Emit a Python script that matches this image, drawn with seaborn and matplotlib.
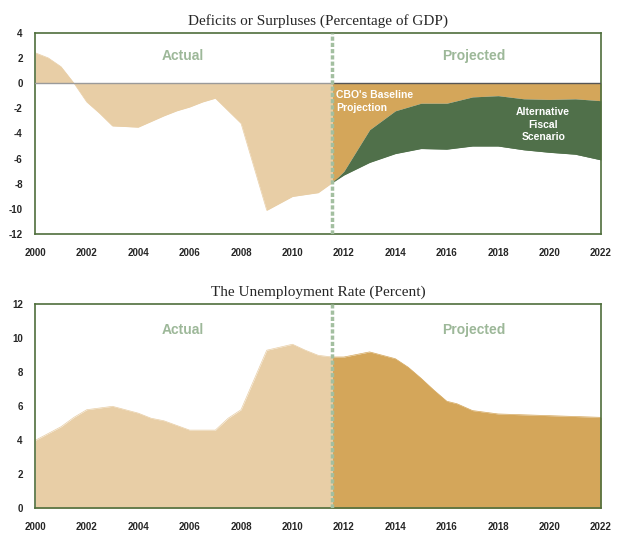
import numpy as np
import pandas as pd
import matplotlib
matplotlib.use('Agg')
import matplotlib.pyplot as plt
import seaborn as sns

# deficits (percentage of GDP)
def_actual_years = [2000, 2000.5, 2001, 2001.5, 2002, 2002.5, 2003, 2004, 2005, 2005.5,
                    2006, 2006.5, 2007, 2008, 2009, 2010, 2011, 2011.55]
def_actual = [2.4, 2.0, 1.3, 0.0, -1.5, -2.4, -3.4, -3.5, -2.6, -2.2,
              -1.9, -1.5, -1.2, -3.2, -10.1, -9.0, -8.7, -7.9]

proj_years = [2011.55, 2012, 2013, 2014, 2015, 2016, 2017, 2018, 2019, 2020, 2021, 2022]
baseline = [-7.9, -7.0, -3.7, -2.2, -1.6, -1.6, -1.1, -1.0, -1.25, -1.3, -1.25, -1.4]
alternative = [-7.9, -7.3, -6.3, -5.6, -5.2, -5.25, -5.0, -5.0, -5.3, -5.5, -5.65, -6.1]

# unemployment rate (percent)
un_actual_years = [2000, 2001, 2001.5, 2002, 2003, 2004, 2004.5, 2005, 2006, 2007,
                   2007.5, 2008, 2009, 2010, 2010.5, 2011, 2011.55]
un_actual = [4.0, 4.8, 5.35, 5.8, 6.0, 5.6, 5.3, 5.15, 4.6, 4.6,
             5.3, 5.8, 9.3, 9.65, 9.3, 9.0, 8.9]

un_proj_years = [2011.55, 2012, 2013, 2014, 2014.5, 2015, 2015.5, 2016, 2016.4, 2017,
                 2018, 2019, 2020, 2021, 2022]
un_proj = [8.9, 8.9, 9.2, 8.8, 8.3, 7.65, 6.95, 6.3, 6.15, 5.75,
           5.55, 5.5, 5.45, 5.4, 5.35]

split_year = 2011.55
xticks = list(range(2000, 2023, 2))

TAN = '#E8CEA6'
ORANGE = '#D4A65A'
GREEN = '#50704A'
SPINE = '#4F6E3C'
LABEL = '#9DB899'

sns.set_style('white')
plt.rcParams['font.family'] = ['Liberation Sans', 'DejaVu Sans']

fig = plt.figure(figsize=(6.24, 5.41), dpi=100)
ax1 = fig.add_axes([0.0566, 0.567, 0.9066, 0.3726])
ax2 = fig.add_axes([0.0566, 0.0604, 0.9066, 0.3771])


def style_axes(ax, ylim, yticks, title):
    ax.set_xlim(2000, 2022)
    ax.set_ylim(*ylim)
    ax.set_xticks(xticks)
    ax.set_xticklabels([str(t) for t in xticks], fontsize=7, fontweight='bold')
    ax.set_yticks(yticks)
    ax.set_yticklabels([str(t) for t in yticks], fontsize=7, fontweight='bold')
    ax.tick_params(axis='x', direction='in', length=3, color='#cccccc', pad=10)
    ax.tick_params(axis='y', length=0, pad=9)
    for s in ax.spines.values():
        s.set_color(SPINE)
        s.set_linewidth(1.2)
        s.set_visible(True)
    ax.set_xlabel('')
    ax.set_ylabel('')
    ax.set_title(title, family=['Liberation Serif', 'DejaVu Serif'], fontsize=11, pad=6)
    ax.axvline(split_year, color='#A3BFA0', lw=2.5, ls=(0, (1.2, 0.6)), zorder=5)


# top panel
d_act = pd.DataFrame({'year': def_actual_years, 'value': def_actual})
d_proj = pd.DataFrame({'year': proj_years, 'base': baseline, 'alt': alternative})

ax1.fill_between(d_act['year'], 0, d_act['value'], color=TAN, lw=0)
ax1.fill_between(d_proj['year'], 0, d_proj['base'], color=ORANGE, lw=0)
ax1.fill_between(d_proj['year'], d_proj['base'], d_proj['alt'], color=GREEN, lw=0)
sns.lineplot(data=d_act, x='year', y='value', ax=ax1, color=TAN, lw=0.5)
sns.lineplot(data=d_proj, x='year', y='alt', ax=ax1, color=GREEN, lw=0.5)
ax1.plot([2000, split_year], [0, 0], color='#9a9a9a', lw=1, zorder=4)
ax1.plot([split_year, 2022], [0, 0], color='#555555', lw=1, zorder=4)

style_axes(ax1, (-12, 4), list(range(-12, 5, 2)),
           'Deficits or Surpluses (Percentage of GDP)')
ax1.text(2005.75, 2.15, 'Actual', color=LABEL, fontsize=10, fontweight='bold',
         ha='center', va='center')
ax1.text(2017.05, 2.15, 'Projected', color=LABEL, fontsize=10, fontweight='bold',
         ha='center', va='center')
ax1.text(2011.7, -1.45, "CBO's Baseline\nProjection", color='white', fontsize=7.5,
         fontweight='bold', ha='left', va='center', linespacing=1.35, zorder=6)
ax1.text(2019.75, -3.3, 'Alternative\nFiscal\nScenario', color='white', fontsize=7.5,
         fontweight='bold', ha='center', va='center', linespacing=1.35, zorder=6)

# bottom panel
u_act = pd.DataFrame({'year': un_actual_years, 'value': un_actual})
u_proj = pd.DataFrame({'year': un_proj_years, 'value': un_proj})

ax2.fill_between(u_act['year'], 0, u_act['value'], color=TAN, lw=0)
ax2.fill_between(u_proj['year'], 0, u_proj['value'], color=ORANGE, lw=0)
sns.lineplot(data=u_act, x='year', y='value', ax=ax2, color=TAN, lw=0.5)
sns.lineplot(data=u_proj, x='year', y='value', ax=ax2, color=ORANGE, lw=0.5)

style_axes(ax2, (0, 12), list(range(0, 13, 2)),
           'The Unemployment Rate (Percent)')
ax2.text(2005.75, 10.5, 'Actual', color=LABEL, fontsize=10, fontweight='bold',
         ha='center', va='center')
ax2.text(2017.05, 10.5, 'Projected', color=LABEL, fontsize=10, fontweight='bold',
         ha='center', va='center')

fig.savefig('out.png', dpi=100)
